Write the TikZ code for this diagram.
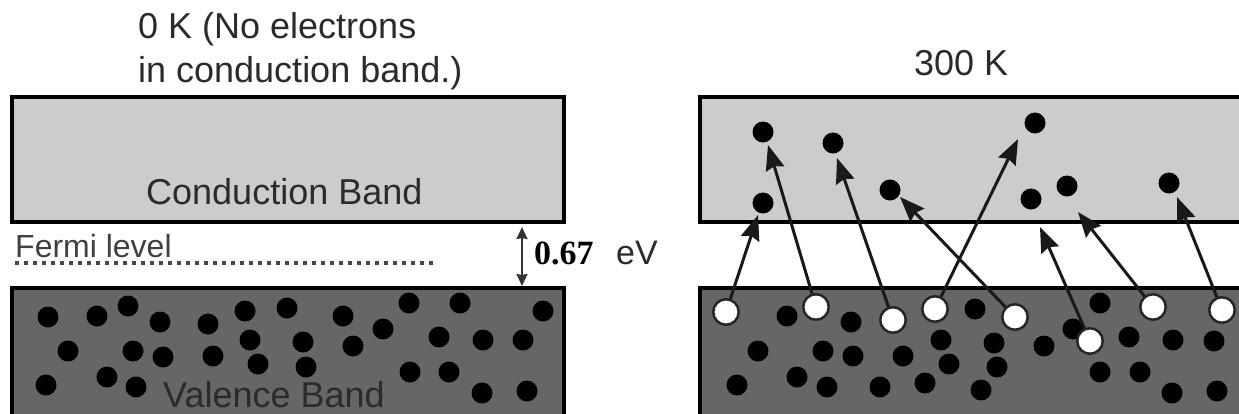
\documentclass[tikz,border=0pt]{standalone}
\usepackage{fontspec}
\setmainfont{Liberation Sans}
\newfontfamily\timesfam{Liberation Serif}
\usetikzlibrary{arrows.meta}
\definecolor{cband}{HTML}{CCCCCC}
\definecolor{vband}{HTML}{666666}
\definecolor{txt}{HTML}{2B2B2B}
\begin{document}
\begin{tikzpicture}[x=1pt,y=-1pt,
  band/.style={line width=4pt, draw=black},
  elec/.style={circle, fill=black, minimum size=21pt, inner sep=0pt},
  hole/.style={circle, fill=white, draw=black!85, line width=2.5pt, minimum size=25.5pt, inner sep=0pt},
  jump/.style={-{Stealth[length=25pt,width=19pt,inset=3pt]}, line width=3pt, draw=black!90},
  lbl/.style={inner sep=0pt, anchor=base west, font=\fontsize{36}{40}\selectfont, text=txt}]
\useasboundingbox (0,0) rectangle (1239,413);
\clip (0,0) rectangle (1239,413);
% bands
\draw[band, fill=cband] (12,97) rectangle (564,222);
\draw[band, fill=vband] (12,288) rectangle (564,430);
\draw[band, fill=cband] (700,97) rectangle (1260,222);
\draw[band, fill=vband] (700,288) rectangle (1260,430);
% texts
\node[lbl] (t0a) at (138,38) {0 K (No electrons};
\node[lbl] (t0b) at (138,82) {in conduction band.)};
\node[lbl] (t300) at (914,75) {300 K};
\node[lbl] (cbl) at (146,204) {Conduction Band};
\node[inner sep=0pt, anchor=base west, font=\fontsize{32}{36}\selectfont, text=black!75] (fl) at (15,257) {Fermi level};
\coordinate (fa) at (15,263);
\coordinate (fb) at (435,263);
\draw[line width=3.5pt, dash pattern=on 3.5pt off 5.5pt, black!72] (fa) -- (fb);
\coordinate (gt) at (522,227);
\coordinate (gb) at (522,286);
\draw[{Stealth[length=12pt,width=11pt,inset=1pt]}-{Stealth[length=12pt,width=11pt,inset=1pt]}, line width=2pt, black!80] (gt) -- (gb);
\node[inner sep=0pt, anchor=base west, font=\timesfam\bfseries\fontsize{34}{38}\selectfont, text=black] (gap) at (534,264) {0.67};
\node[inner sep=0pt, anchor=base west, font=\fontsize{34}{38}\selectfont, text=txt] (ev) at (616,264) {eV};
% left valence electrons
\foreach \x/\y [count=\i] in {48/317,97/316,128/306,160/322,208/324,245/311,287/308,343/316,383/329,409/303,460/303,543/311,
  68/351,133/351,163/357,213/356,250/340,258/364,303/342,353/346,439/337,483/340,523/340,
  46/385,107/377,136/387,306/367,410/372,449/372,482/393,527/391}
  \node[elec] (lv\i) at (\x,\y) {};
\node[lbl] (vbl) at (163,407) {Valence Band};
% right valence electrons
\foreach \x/\y [count=\i] in {787/316,851/322,758/351,823/351,853/356,903/356,941/340,949/364,737/385,797/377,827/387,880/387,925/383,
  975/309,1073/329,994/343,1044/346,1129/337,1173/340,1214/341,997/367,1100/372,1140/372,981/390,1172/393,1217/391,1100/303}
  \node[elec] (rv\i) at (\x,\y) {};
% holes
\foreach \x/\y [count=\i] in {726/312,816/307,893/320,935/309,1015/317,1090/341,1153/307,1222/310}
  \coordinate (hc\i) at (\x,\y);
% arrow tips
\foreach \x/\y [count=\i] in {758/215,768/145,837/158,1018/139,900/197,1040/227,1078/212,1177/197}
  \coordinate (tip\i) at (\x,\y);
\foreach \i in {1,...,8}
  \draw[jump] (hc\i) -- (tip\i);
\foreach \i in {1,...,8}
  \node[hole] (h\i) at (hc\i) {};
% conduction electrons
\foreach \x/\y [count=\i] in {763/203,763/132,833/143,1035/123,890/190,1031/199,1067/186,1169/183}
  \node[elec] (ce\i) at (\x,\y) {};
\end{tikzpicture}
\end{document}
